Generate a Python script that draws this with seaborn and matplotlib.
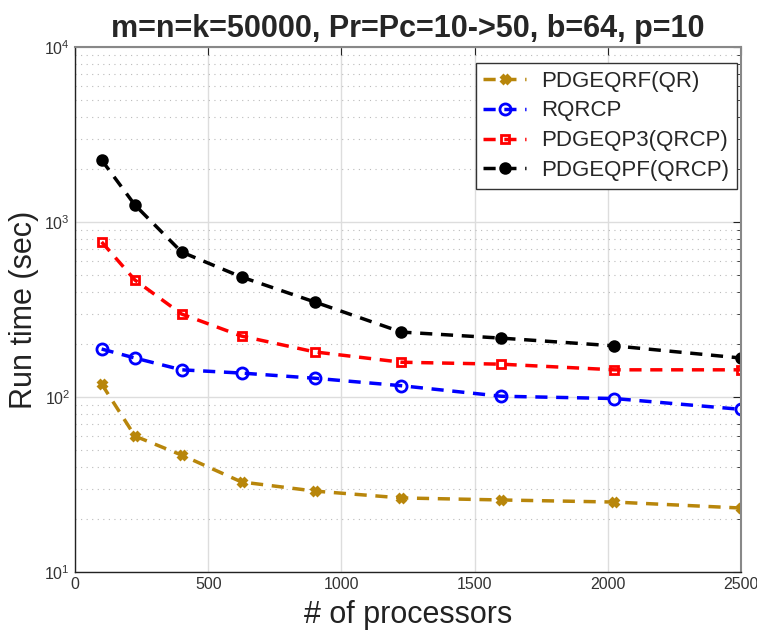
import matplotlib
matplotlib.use("Agg")
import matplotlib.pyplot as plt
import seaborn as sns
import pandas as pd
import numpy as np
from matplotlib.ticker import LogLocator, FixedLocator

processors = [100, 225, 400, 625, 900, 1225, 1600, 2025, 2500]
pdgeqrf = [118.7, 59.8, 46.6, 32.7, 29.0, 26.5, 25.8, 25.1, 23.2]
rqrcp = [188, 167, 143, 137, 128, 116, 101, 98, 85]
pdgeqp3 = [769, 466, 298, 223, 181, 158, 154, 143, 143]
pdgeqpf = [2260, 1250, 674, 485, 349, 235, 217, 196, 167]

names = ["PDGEQRF(QR)", "RQRCP", "PDGEQP3(QRCP)", "PDGEQPF(QRCP)"]
series = [pdgeqrf, rqrcp, pdgeqp3, pdgeqpf]
colors = ["#B8860B", "#0000FF", "#FF0000", "#000000"]
markers = ["X", "o", "s", "o"]
mfc = ["#B8860B", "none", "none", "#000000"]
msizes = [6, 8, 6, 7]

sns.set_style("white")
plt.rcParams["font.family"] = ["Liberation Sans", "DejaVu Sans"]
plt.rcParams["mathtext.fontset"] = "custom"
plt.rcParams["mathtext.rm"] = "Liberation Sans"

fig = plt.figure(figsize=(7.57, 6.37), dpi=100)
ax = fig.add_axes([75/757, 1-572/637, (741-75)/757, (572-47)/637])

df = pd.DataFrame({
    "p": processors * 4,
    "t": sum(series, []),
    "name": sum([[n]*len(processors) for n in names], []),
})

for n, c, m, fc, ms in zip(names, colors, markers, mfc, msizes):
    sub = df[df["name"] == n]
    sns.lineplot(data=sub, x="p", y="t", ax=ax, color=c, marker=m,
                 markersize=ms, markerfacecolor=fc, markeredgecolor=c,
                 markeredgewidth=2, linewidth=2.5, dashes=False,
                 linestyle=(0, (3.5, 2.5)), label=n)

ax.set_yscale("log")
ax.set_xlim(0, 2500)
ax.set_ylim(10, 1e4)
ax.set_xticks([0, 500, 1000, 1500, 2000, 2500])
ax.yaxis.set_major_locator(FixedLocator([10, 100, 1000, 10000]))
ax.yaxis.set_minor_locator(LogLocator(base=10, subs=np.arange(2, 10)))
ax.set_yticklabels([r"$10^{1}$", r"$10^{2}$", r"$10^{3}$", r"$10^{4}$"])

ax.grid(True, which="major", color="#DDDDDD", linewidth=1, linestyle="-")
ax.grid(True, which="minor", axis="y", color="#BBBBBB", linewidth=0.8, linestyle=(0, (1, 4)))
ax.set_axisbelow(True)

ax.tick_params(axis="both", which="both", direction="in", labelsize=11.5, colors="#222222")
ax.tick_params(axis="both", which="major", length=6, top=True, right=True, labelcolor="#333333")
ax.tick_params(axis="y", which="minor", length=3, right=True)
for s in ["left", "bottom"]:
    ax.spines[s].set_color("#222222")
    ax.spines[s].set_linewidth(1)
for s in ["top", "right"]:
    ax.spines[s].set_color("#888888")
    ax.spines[s].set_linewidth(1.5)

ax.set_xlabel("# of processors", fontsize=22, color="#222222", labelpad=6)
ax.set_ylabel("Run time (sec)", fontsize=22, color="#222222", labelpad=4)
ax.set_title("m=n=k=50000, Pr=Pc=10->50, b=64, p=10", fontsize=22, fontweight="bold", pad=7)

leg = ax.legend(loc="upper right", fontsize=16, frameon=True, fancybox=False,
                edgecolor="#333333", framealpha=1, handlelength=1.9,
                borderpad=0.35, labelspacing=0.4, handletextpad=0.7,
                borderaxespad=0, bbox_to_anchor=(0.994, 0.97))
leg.get_frame().set_linewidth(1)

fig.savefig("out.png", dpi=100)
